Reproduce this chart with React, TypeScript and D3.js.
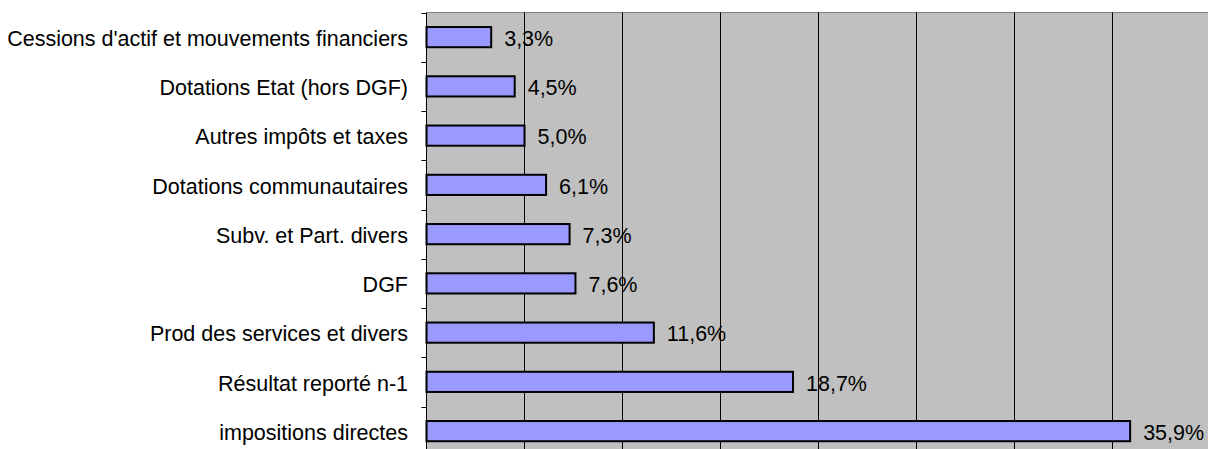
import React, { useEffect, useRef } from 'react';
import * as d3 from 'd3';

// categories top to bottom, with their share of revenue (%)
const categories = [
  "Cessions d'actif et mouvements financiers",
  'Dotations Etat (hors DGF)',
  'Autres impôts et taxes',
  'Dotations communautaires',
  'Subv. et Part. divers',
  'DGF',
  'Prod des services et divers',
  'Résultat reporté n-1',
  'impositions directes',
];
const values = [3.3, 4.5, 5.0, 6.1, 7.3, 7.6, 11.6, 18.7, 35.9];
const xTicks = [0, 5, 10, 15, 20, 25, 30, 35, 40];

const W = 1208;
const H = 449;

const App = () => {
  const svgRef = useRef<SVGSVGElement>(null);

  useEffect(() => {
    document.body.style.margin = '0';
    const svg = d3.select(svgRef.current);
    svg.selectAll('*').remove();

    const left = 426.5;
    const top = 12.5;
    const band = 49.25;
    const font = 'Liberation Sans, Arial, sans-serif';
    const fontSize = 21.5;

    const x = d3.scaleLinear().domain([0, 40]).range([left, left + 784]);
    const y = d3
      .scaleBand<string>()
      .domain(categories)
      .range([top, top + band * categories.length])
      .paddingInner(0.59)
      .paddingOuter(0.295);

    // plot background
    svg
      .append('rect')
      .attr('x', left)
      .attr('y', top)
      .attr('width', x(40) - left)
      .attr('height', band * categories.length)
      .attr('fill', '#c0c0c0');

    // top border
    svg
      .append('line')
      .attr('x1', left)
      .attr('x2', x(40))
      .attr('y1', top)
      .attr('y2', top)
      .attr('stroke', '#808080')
      .attr('stroke-width', 1);

    // vertical gridlines
    svg
      .selectAll('.grid')
      .data(xTicks.slice(1))
      .enter()
      .append('line')
      .attr('x1', (d) => Math.round(x(d)) - 0.5)
      .attr('x2', (d) => Math.round(x(d)) - 0.5)
      .attr('y1', top)
      .attr('y2', top + band * categories.length)
      .attr('stroke', '#000');

    // bars
    svg
      .selectAll('.bar')
      .data(values)
      .enter()
      .append('rect')
      .attr('x', left)
      .attr('y', (d, i) => y(categories[i])!)
      .attr('width', (d) => x(d) - left)
      .attr('height', y.bandwidth())
      .attr('fill', '#9999ff')
      .attr('stroke', '#000')
      .attr('stroke-width', 2);

    // value labels
    svg
      .selectAll('.val')
      .data(values)
      .enter()
      .append('text')
      .attr('x', (d) => x(d) + 13)
      .attr('y', (d, i) => y(categories[i])! + y.bandwidth() / 2 + 1)
      .attr('dy', '0.36em')
      .attr('font-family', font)
      .attr('font-size', fontSize)
      .attr('fill', '#000')
      .text((d) => d.toFixed(1).replace('.', ',') + '%');

    // left axis
    const axis = svg.append('g');
    axis
      .append('line')
      .attr('x1', left)
      .attr('x2', left)
      .attr('y1', top)
      .attr('y2', top + band * categories.length)
      .attr('stroke', '#000');
    axis
      .selectAll('.tick')
      .data(d3.range(categories.length + 1))
      .enter()
      .append('line')
      .attr('x1', left - 5)
      .attr('x2', left)
      .attr('y1', (i) => Math.round(top + i * band) + 0.5)
      .attr('y2', (i) => Math.round(top + i * band) + 0.5)
      .attr('stroke', '#000');
    axis
      .selectAll('.lab')
      .data(categories)
      .enter()
      .append('text')
      .attr('x', 408)
      .attr('y', (d) => y(d)! + y.bandwidth() / 2 + 1)
      .attr('dy', '0.36em')
      .attr('text-anchor', 'end')
      .attr('font-family', font)
      .attr('font-size', fontSize)
      .attr('fill', '#000')
      .text((d) => d);
  }, []);

  return <svg ref={svgRef} width={W} height={H} style={{ display: 'block' }}></svg>;
};

export default App;
